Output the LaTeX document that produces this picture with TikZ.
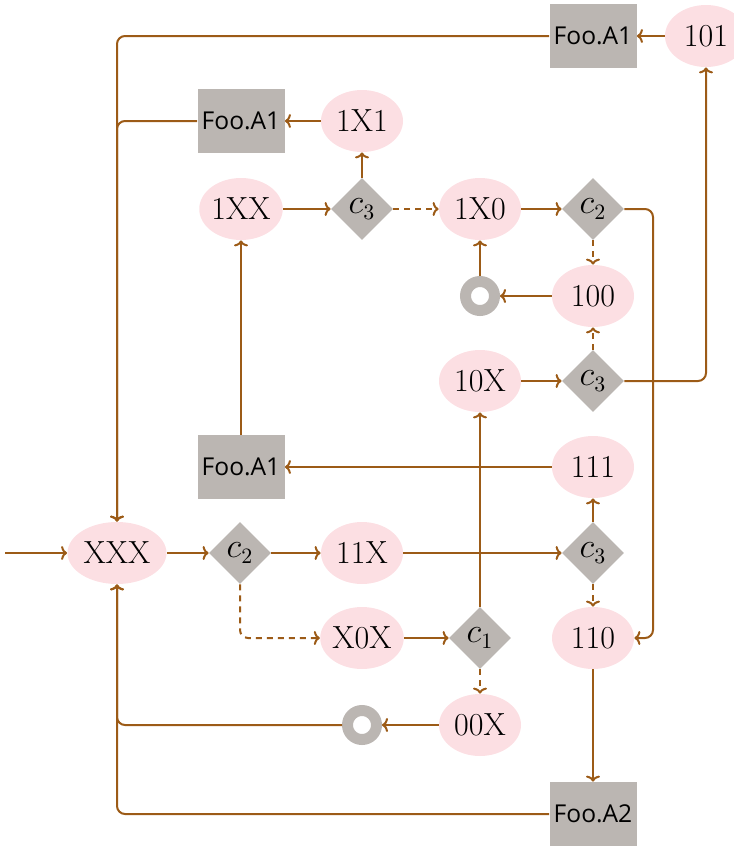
\documentclass[tikz,border=0pt]{standalone}
\usepackage{fontspec}
\newfontfamily\boxfont{Open Sans}
\usetikzlibrary{shapes.geometric,arrows.meta}
\definecolor{edgec}{RGB}{156,91,23}
\definecolor{pinkfill}{RGB}{252,223,227}
\definecolor{grayfill}{RGB}{187,182,178}
\begin{document}
\begin{tikzpicture}[x=0.5pt,y=-0.5pt,
 state/.style={ellipse, fill=pinkfill, inner sep=0pt, minimum width=41pt, minimum height=31pt, font=\fontsize{16}{18}\selectfont},
 action/.style={rectangle, fill=grayfill, inner sep=0pt, minimum width=43.5pt, minimum height=32pt, font=\boxfont\fontsize{12.3}{14}\selectfont},
 cond/.style={diamond, aspect=1, fill=grayfill, inner sep=0pt, minimum width=31pt, minimum height=31pt, font=\fontsize{16}{18}\selectfont},
 term/.style={circle, draw=grayfill, line width=5.5pt, fill=white, inner sep=0pt, minimum size=14.5pt},
 flow/.style={draw=edgec, line width=1pt, -{To[length=3pt,width=7pt]}, rounded corners=4pt},
 alt/.style={flow, dash pattern=on 3pt off 2.5pt}
]
\useasboundingbox (0,0) rectangle (734,847);
\node[action] (fa1top) at (593,36) {Foo.A1};
\node[state] (n101) at (706,36) {101};
\node[action] (fa1up) at (241,121) {Foo.A1};
\node[state] (n1x1) at (362,121) {1X1};
\node[state] (n1xx) at (241,209) {1XX};
\node[cond] (c3a) at (362,209) {$c_3$};
\node[state] (n1x0) at (480,209) {1X0};
\node[cond] (c2a) at (593,209) {$c_2$};
\node[term] (t1) at (480,296) {};
\node[state] (n100) at (593,296) {100};
\node[state] (n10x) at (480,381) {10X};
\node[cond] (c3b) at (593,381) {$c_3$};
\node[action] (fa1mid) at (241,467) {Foo.A1};
\node[state] (n111) at (593,467) {111};
\node[state, minimum width=49.5pt] (xxx) at (117,553) {XXX};
\node[cond] (c2b) at (240,553) {$c_2$};
\node[state] (n11x) at (362,553) {11X};
\node[cond] (c3c) at (593,553) {$c_3$};
\node[state] (x0x) at (362,638) {X0X};
\node[cond] (c1) at (480,638) {$c_1$};
\node[state] (n110) at (593,638) {110};
\node[term] (t2) at (362,725) {};
\node[state] (n00x) at (480,725) {00X};
\node[action] (fa2) at (593,814) {Foo.A2};
\coordinate (in) at (5,553);
\coordinate (r1) at (653,300);

\draw[flow] (in) -- (xxx);
\draw[flow] (xxx) -- (c2b);
\draw[flow] (c2b) -- (n11x);
\draw[alt] (c2b) |- (x0x);
\draw[flow] (n11x) -- (c3c);
\draw[flow] (x0x) -- (c1);
\draw[flow] (c1) -- (n10x);
\draw[alt] (c1) -- (n00x);
\draw[flow] (n00x) -- (t2);
\draw[flow] (t2) -| (xxx);
\draw[flow] (c3c) -- (n111);
\draw[alt] (c3c) -- (n110);
\draw[flow] (n110) -- (fa2);
\draw[flow] (fa2) -| (xxx);
\draw[flow] (n111) -- (fa1mid);
\draw[flow] (fa1mid) -- (n1xx);
\draw[flow] (n1xx) -- (c3a);
\draw[flow] (c3a) -- (n1x1);
\draw[alt] (c3a) -- (n1x0);
\draw[flow] (n1x1) -- (fa1up);
\draw[flow] (fa1up) -| (xxx);
\draw[flow] (fa1top) -| (xxx);
\draw[flow] (n1x0) -- (c2a);
\draw[alt] (c2a) -- (n100);
\draw[flow] (c2a) -| (r1) |- (n110);
\draw[flow] (n100) -- (t1);
\draw[flow] (t1) -- (n1x0);
\draw[flow] (n10x) -- (c3b);
\draw[alt] (c3b) -- (n100);
\draw[flow] (c3b) -| (n101);
\draw[flow] (n101) -- (fa1top);
\end{tikzpicture}
\end{document}
